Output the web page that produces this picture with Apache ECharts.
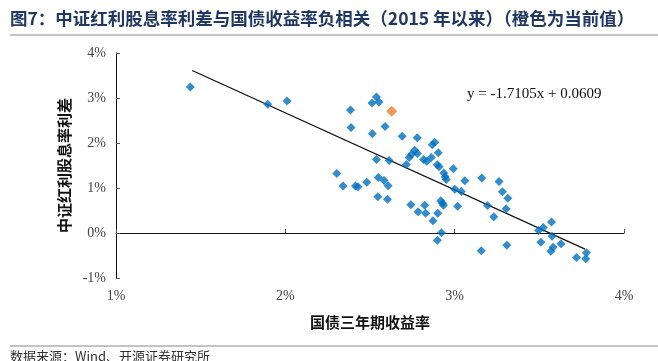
<!DOCTYPE html>
<html><head><meta charset="utf-8">
<script src="https://cdn.jsdelivr.net/npm/echarts@6/dist/echarts.min.js"></script>
<style>html,body{margin:0;padding:0;background:#fff}#c{width:658px;height:361px}</style>
</head><body><div id="c"></div>
<script>
// 国债三年期收益率 (%)
var bondYield = [1.439,1.896,2.010,2.385,2.388,2.304,2.341,2.414,2.429,2.481,2.538,2.512,2.553,2.514,2.589,2.690,2.779,2.882,2.868,2.764,2.745,2.780,2.731,2.903,2.538,2.613,2.714,2.816,2.835,2.862,2.897,2.908,2.992,2.936,2.944,2.950,3.060,3.160,3.262,2.549,2.583,2.607,3.001,3.039,3.282,3.314,3.304,3.194,3.231,3.018,2.546,2.603,2.741,2.823,2.784,2.829,2.900,2.872,2.918,2.928,2.934,2.922,2.898,3.157,3.308,3.572,3.523,3.496,3.575,3.509,3.628,3.581,3.568,3.720,3.778,3.774];
// 中证红利股息率利差 (%)
var dividendSpread = [3.245,2.862,2.935,2.735,2.345,1.324,1.043,1.043,1.027,1.127,3.024,2.890,2.913,2.203,2.367,2.152,2.118,2.019,1.959,1.841,1.752,1.768,1.679,1.786,1.635,1.613,1.520,1.635,1.593,1.679,1.515,1.471,1.426,1.331,1.249,1.191,1.160,1.220,1.142,1.231,1.165,1.049,0.972,0.921,0.916,0.770,0.539,0.610,0.359,0.594,0.805,0.748,0.628,0.614,0.472,0.437,0.437,0.273,0.717,0.659,0.614,0.007,-0.162,-0.393,-0.273,0.244,0.122,0.055,-0.071,-0.204,-0.240,-0.317,-0.406,-0.543,-0.437,-0.570];
// 当前值（橙色）
var currentX = [2.628];
var currentY = [2.706];
// 趋势线 y = -1.7105x + 0.0609
var slope = -1.7105, intercept = 0.0609;
var trendRangeX = [1.45, 3.77];
var xTicks = [1, 2, 3, 4];
var yTicks = [-1, 0, 1, 2, 3, 4];

var pts = bondYield.map(function(v,i){return [v, dividendSpread[i]];});
var cur = currentX.map(function(v,i){return [v, currentY[i]];});
var trend = trendRangeX.map(function(x){return [x, (slope*x/100 + intercept)*100];});

var serif = '"Liberation Serif","Times New Roman",serif';
var cjk = '"Noto Sans CJK SC","Noto Sans",sans-serif';
var chart = echarts.init(document.getElementById('c'));
chart.setOption({
  animation:false,
  backgroundColor:'#fff',
  grid:{left:116, right:34, top:53, bottom:83},
  xAxis:[{
    type:'value', min:xTicks[0], max:xTicks[xTicks.length-1], interval:1,
    axisLine:{onZero:true, lineStyle:{color:'#111', width:1}},
    axisTick:{show:true, inside:true, length:4, lineStyle:{color:'#555'}},
    axisLabel:{show:false}, splitLine:{show:false}
  },{
    type:'value', position:'bottom', min:xTicks[0], max:xTicks[xTicks.length-1], interval:1,
    axisLine:{show:false, onZero:false}, axisTick:{show:false}, splitLine:{show:false},
    axisLabel:{formatter:'{value}%', color:'#444', fontFamily:serif, fontSize:14, margin:11},
    name:'国债三年期收益率', nameLocation:'middle', nameGap:37,
    nameTextStyle:{fontFamily:cjk, fontSize:15, fontWeight:'bold', color:'#111'}
  }],
  yAxis:{
    type:'value', min:yTicks[0], max:yTicks[yTicks.length-1], interval:1,
    axisLine:{show:true, onZero:false, lineStyle:{color:'#111'}},
    axisTick:{show:true, inside:true, length:4, lineStyle:{color:'#555'}},
    axisLabel:{formatter:'{value}%', color:'#444', fontFamily:serif, fontSize:14, margin:10},
    splitLine:{show:false},
    name:'中证红利股息率利差', nameLocation:'middle', nameGap:44,
    nameTextStyle:{fontFamily:cjk, fontSize:15, fontWeight:'bold', color:'#111'}
  },
  series:[
    {type:'line', data:trend, symbol:'none', lineStyle:{color:'#111', width:1.2}, z:1, silent:true},
    {type:'scatter', data:pts, symbol:'diamond', symbolSize:9, itemStyle:{color:'#0070C0'}, z:2},
    {type:'scatter', data:cur, symbol:'diamond', symbolSize:11, itemStyle:{color:'#ED7D31'}, z:3}
  ],
  graphic:[
    {type:'text', left:10, top:10, style:{text:'图7：中证红利股息率利差与国债收益率负相关（2015 年以来）（橙色为当前值）', font:'bold 17.5px '+cjk, fill:'#1F3864'}},
    {type:'line', shape:{x1:10,y1:35,x2:658,y2:35}, style:{stroke:'#888', lineWidth:1}},
    {type:'text', left:467, top:87, style:{text:'y = -1.7105x + 0.0609', font:'15px '+serif, fill:'#111'}},
    {type:'line', shape:{x1:10,y1:346,x2:658,y2:346}, style:{stroke:'#888', lineWidth:1}},
    {type:'text', left:10, top:350, style:{text:'数据来源：Wind、开源证券研究所', font:'13px '+cjk, fill:'#333'}}
  ]
});
</script></body></html>
